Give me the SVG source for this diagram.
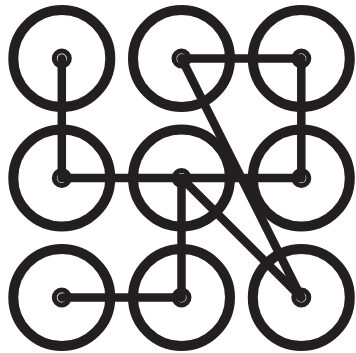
<svg xmlns="http://www.w3.org/2000/svg" width="356" height="353" viewBox="0 0 356 353">
  <style>
    .wheel { fill: none; stroke: #231f20; stroke-width: 10; }
    .hub { fill: none; stroke: #231f20; stroke-width: 5; }
    .link { fill: none; stroke: #231f20; stroke-width: 8.5; stroke-linecap: round; stroke-linejoin: round; }
  </style>
  <rect width="356" height="353" fill="#ffffff"/>
  <g id="connectors">
    <line class="link" x1="61.8" y1="58.5" x2="61.8" y2="178"/>
    <line class="link" x1="61.8" y1="178" x2="301.3" y2="178"/>
    <line class="link" x1="181.5" y1="58.5" x2="301.3" y2="58.5"/>
    <line class="link" x1="301.3" y1="58.5" x2="301.3" y2="178"/>
    <line class="link" x1="181.5" y1="58.5" x2="301.3" y2="297.5"/>
    <line class="link" x1="181.5" y1="178" x2="301.3" y2="297.5"/>
    <line class="link" x1="181.5" y1="178" x2="181.5" y2="297.5"/>
    <line class="link" x1="61.8" y1="297.5" x2="181.5" y2="297.5"/>
  </g>
  <g id="n11"><circle class="wheel" cx="61.8" cy="58.5" r="48.5"/><circle class="hub" cx="61.8" cy="58.5" r="7.5"/></g>
  <g id="n12"><circle class="wheel" cx="181.5" cy="58.5" r="48.5"/><circle class="hub" cx="181.5" cy="58.5" r="7.5"/></g>
  <g id="n13"><circle class="wheel" cx="301.3" cy="58.5" r="48.5"/><circle class="hub" cx="301.3" cy="58.5" r="7.5"/></g>
  <g id="n21"><circle class="wheel" cx="61.8" cy="178" r="48.5"/><circle class="hub" cx="61.8" cy="178" r="7.5"/></g>
  <g id="n22"><circle class="wheel" cx="181.5" cy="178" r="48.5"/><circle class="hub" cx="181.5" cy="178" r="7.5"/></g>
  <g id="n23"><circle class="wheel" cx="301.3" cy="178" r="48.5"/><circle class="hub" cx="301.3" cy="178" r="7.5"/></g>
  <g id="n31"><circle class="wheel" cx="61.8" cy="297.5" r="48.5"/><circle class="hub" cx="61.8" cy="297.5" r="7.5"/></g>
  <g id="n32"><circle class="wheel" cx="181.5" cy="297.5" r="48.5"/><circle class="hub" cx="181.5" cy="297.5" r="7.5"/></g>
  <g id="n33"><circle class="wheel" cx="301.3" cy="297.5" r="48.5"/><circle class="hub" cx="301.3" cy="297.5" r="7.5"/></g>
</svg>
